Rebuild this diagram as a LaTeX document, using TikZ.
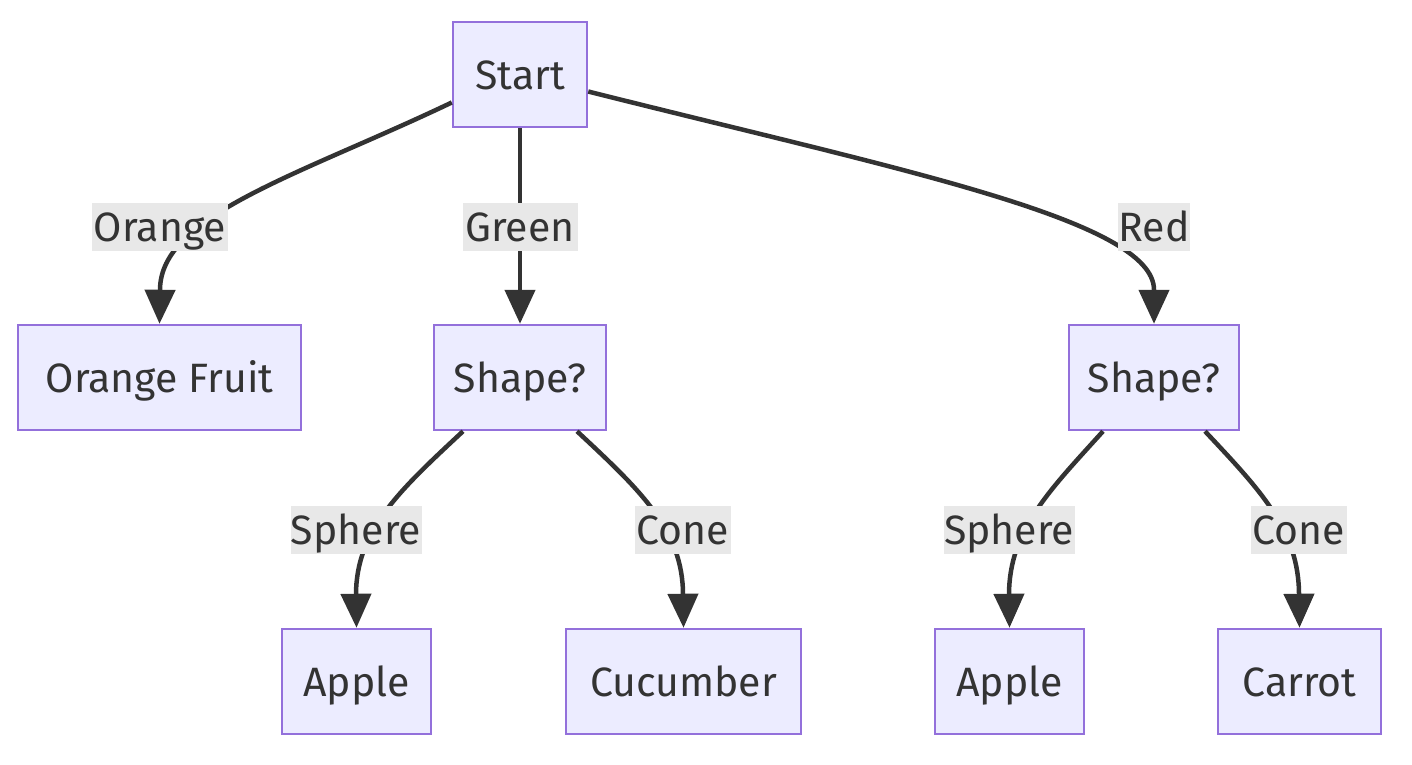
\documentclass[tikz,border=0pt]{standalone}
\usepackage{fontspec}
\setmainfont{Fira Sans}
\usetikzlibrary{arrows.meta,calc}
\definecolor{boxfill}{HTML}{ECECFF}
\definecolor{boxdraw}{HTML}{9370DB}
\definecolor{ink}{HTML}{333333}
\definecolor{labbg}{HTML}{E8E8E8}
\tikzset{
  box/.style={draw=boxdraw, fill=boxfill, line width=2.5pt, minimum height=105pt, inner sep=0pt, text=ink, font=\fontsize{41}{48}\selectfont, text height=29pt, text depth=0pt},
  elabel/.style={fill=labbg, text=ink, minimum height=48pt, inner sep=0pt, font=\fontsize{41}{48}\selectfont, text height=29pt, text depth=0pt},
  edge/.style={draw=ink, line width=4.5pt, -{Triangle[length=34pt,width=30pt]}}
}
\begin{document}
\begin{tikzpicture}[x=1pt,y=-1pt]
\useasboundingbox[fill=white] (0,0) rectangle (1412,764);
% nodes
\node[box, minimum width=134pt] (start) at (520,74.5) {Start};
\node[box, minimum width=283pt] (orf) at (159.5,377.5) {Orange Fruit};
\node[box, minimum width=172pt] (sg) at (520,377.5) {Shape?};
\node[box, minimum width=170pt] (sr) at (1154,377.5) {Shape?};
\node[box, minimum width=149pt] (ap1) at (356.5,681.5) {Apple};
\node[box, minimum width=235pt] (cuc) at (683.5,681.5) {Cucumber};
\node[box, minimum width=149pt] (ap2) at (1009.5,681.5) {Apple};
\node[box, minimum width=163pt] (car) at (1299.5,681.5) {Carrot};
% edges
\draw[edge] ([yshift=-28pt]start.west) .. controls (300,175) and (160,215) .. (160,290) -- (orf.north);
\draw[edge] (start.south) -- (sg.north);
\draw[edge] ([yshift=-17pt]start.east) .. controls (900,170) and (1154,220) .. (1154,290) -- (sr.north);
\draw[edge] ([xshift=-57pt]sg.south) .. controls (400,490) and (356,530) .. (356,595) -- (ap1.north);
\draw[edge] ([xshift=57pt]sg.south) .. controls (640,490) and (683,530) .. (683,595) -- (cuc.north);
\draw[edge] ([xshift=-51pt]sr.south) .. controls (1050,490) and (1009,530) .. (1009,595) -- (ap2.north);
\draw[edge] ([xshift=51pt]sr.south) .. controls (1260,490) and (1299,530) .. (1299,595) -- (car.north);
% edge labels
\node[elabel, minimum width=136pt] (l1) at (160,227) {Orange};
\node[elabel, minimum width=115pt] (l2) at (520,227) {Green};
\node[elabel, minimum width=72pt] (l3) at (1154,227) {Red};
\node[elabel, minimum width=131pt] (l4) at (356,530) {Sphere};
\node[elabel, minimum width=96pt] (l5) at (683,530) {Cone};
\node[elabel, minimum width=131pt] (l6) at (1009,530) {Sphere};
\node[elabel, minimum width=96pt] (l7) at (1299,530) {Cone};
\end{tikzpicture}
\end{document}
